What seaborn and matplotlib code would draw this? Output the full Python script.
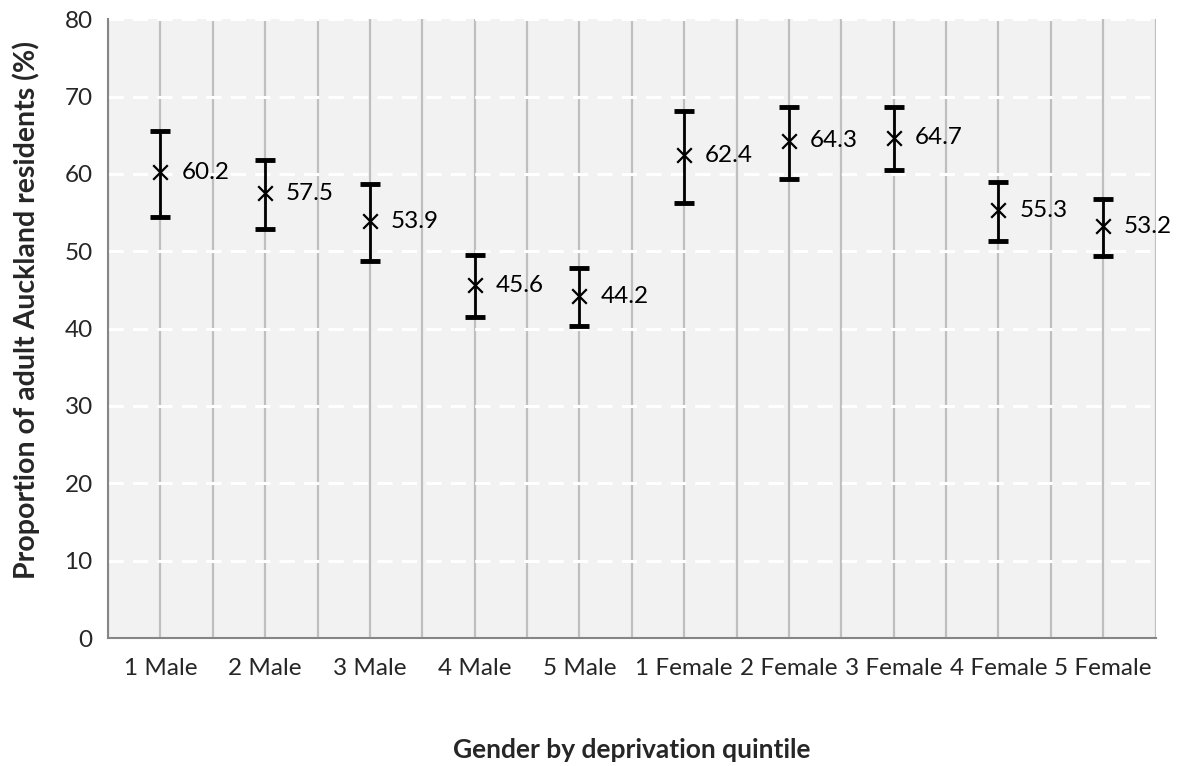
import numpy as np
import pandas as pd
import matplotlib
matplotlib.use("Agg")
import matplotlib.pyplot as plt
import seaborn as sns

# data
groups = ["1 Male", "2 Male", "3 Male", "4 Male", "5 Male",
          "1 Female", "2 Female", "3 Female", "4 Female", "5 Female"]
estimate = [60.2, 57.5, 53.9, 45.6, 44.2, 62.4, 64.3, 64.7, 55.3, 53.2]
upper = [65.5, 61.8, 58.7, 49.5, 47.8, 68.1, 68.7, 68.6, 59.0, 56.8]
lower = [54.4, 52.9, 48.8, 41.5, 40.4, 56.2, 59.4, 60.5, 51.3, 49.4]

df = pd.DataFrame({"group": groups, "estimate": estimate,
                   "upper": upper, "lower": lower})
df["pos"] = np.arange(len(df))

sns.set_style("white")
plt.rcParams["font.family"] = ["Lato", "DejaVu Sans"]

font_size = 17.5

fig = plt.figure(figsize=(11.81, 7.66), dpi=100)
ax = fig.add_axes([0.0915, 0.167, 0.887, 0.808])
ax.set_facecolor("#f2f2f2")

# vertical gridlines at category centres and boundaries
for x in np.arange(-0.5, len(df), 0.5):
    ax.axvline(x, color="#bfbfbf", lw=1.6, zorder=1)
# horizontal dashed white gridlines
for y in range(10, 81, 10):
    ax.axhline(y, color="white", lw=2.2, ls=(0, (5, 3)), zorder=1.5)

# error bars
yerr = [df["estimate"] - df["lower"], df["upper"] - df["estimate"]]
ax.errorbar(df["pos"], df["estimate"], yerr=yerr, fmt="none",
            ecolor="black", elinewidth=2, capsize=7.5, capthick=3.5, zorder=3)

# point estimates
sns.scatterplot(data=df, x="pos", y="estimate", marker="x", s=110,
                color="black", linewidth=1.6, zorder=4, ax=ax)

# value labels
for _, row in df.iterrows():
    ax.annotate(f"{row['estimate']:.1f}", (row["pos"], row["estimate"]),
                xytext=(15, 0), textcoords="offset points",
                va="center", ha="left", fontsize=font_size, color="black", zorder=5)

ax.set_xlim(-0.5, len(df) - 0.5)
ax.set_ylim(0, 80)
ax.set_yticks(range(0, 81, 10))
ax.set_xticks(df["pos"])
ax.set_xticklabels(df["group"])
ax.set_xticks(np.arange(-0.5, len(df), 1), minor=True)
ax.tick_params(axis="x", which="major", length=0, pad=14, labelsize=font_size)
ax.tick_params(axis="x", which="minor", length=6, width=1.5, color="#868686", direction="out")
ax.tick_params(axis="y", length=6, width=1.5, color="#868686", direction="out",
               pad=5, labelsize=font_size)

for side in ["top", "right"]:
    ax.spines[side].set_visible(False)
for side in ["left", "bottom"]:
    ax.spines[side].set_color("#868686")
    ax.spines[side].set_linewidth(1.5)
    ax.spines[side].set_zorder(6)

ax.set_xlabel("Gender by deprivation quintile", fontsize=19,
              fontweight="bold", va="center")
ax.xaxis.set_label_coords(0.5, -0.181)
ax.set_ylabel("Proportion of adult Auckland residents (%)", fontsize=20.5,
              fontweight="bold", va="center")
ax.yaxis.set_label_coords(-0.078, 0.53)

fig.savefig("out.png", dpi=100)
